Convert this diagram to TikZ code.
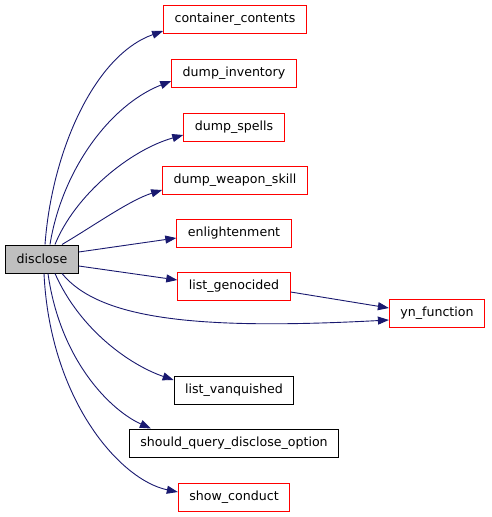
\documentclass[tikz,border=0pt]{standalone}
\usepackage{fontspec}
\setmainfont{DejaVu Sans}
\usepackage{xcolor}
\usetikzlibrary{arrows.meta,positioning,calc}
\definecolor{edge}{RGB}{25,25,112}
\definecolor{boxred}{RGB}{255,0,0}
\definecolor{focus}{RGB}{191,191,191}

\begin{document}
\begin{tikzpicture}[x=1pt,y=-1pt,
    fn/.style={draw=boxred,line width=1pt,font=\fontsize{12.6}{14}\selectfont,minimum height=28pt,inner xsep=11pt},
    fnblack/.style={fn,draw=black},
    call/.style={draw=edge,line width=0.9pt,-{Triangle[length=11pt,width=8pt]}}]
    \fill[white] (0,0) rectangle (491,517);
    \useasboundingbox (0,0) rectangle (491,517);

    % caller
    \node[fnblack,fill=focus] (disclose) at (42,259) {disclose};

    % callees
    \node[fn] (cont) at (235,19) {container\_contents};
    \node[fn] (inv) at (234,73) {dump\_inventory};
    \node[fn] (spells) at (234,127) {dump\_spells};
    \node[fn] (weapon) at (235,180) {dump\_weapon\_skill};
    \node[fn] (enl) at (234,233) {enlightenment};
    \node[fn] (geno) at (234,286) {list\_genocided};
    \node[fn] (yn) at (437,313) {yn\_function};
    \node[fnblack] (vanq) at (234,390) {list\_vanquished};
    \node[fnblack] (sqdo) at (234,443) {should\_query\_disclose\_option};
    \node[fn] (cond) at (234,497) {show\_conduct};

    % edges
    \draw[call] ($(disclose.north)+(3,0)$) .. controls (52,150) and (95,55) .. (cont.west |- 0,31);
    \draw[call] ($(disclose.north)+(8,0)$) .. controls (62,170) and (110,105) .. (inv.west |- 0,81);
    \draw[call] ($(disclose.north)+(13,0)$) .. controls (75,195) and (130,150) .. (spells.west |- 0,135);
    \draw[call] ($(disclose.north)+(20,0)$) .. controls (95,225) and (130,200) .. (weapon.west |- 0,190);
    \draw[call] ($(disclose.east)+(0,-7)$) -- (enl.west |- 0,238);
    \draw[call] ($(disclose.east)+(0,7)$) -- (geno.west |- 0,280);
    \draw[call] (geno.east |- 0,292) -- (yn.west |- 0,308);
    \draw[call] ($(disclose.south)+(20,0)$) .. controls (100,320) and (200,330) .. (yn.west |- 0,320);
    \draw[call] ($(disclose.south)+(13,0)$) .. controls (80,330) and (130,365) .. (vanq.west |- 0,380);
    \draw[call] ($(disclose.south)+(6,0)$) .. controls (60,360) and (110,410) .. ($(sqdo.north west)+(22,0)$);
    \draw[call] ($(disclose.south)+(2,0)$) .. controls (50,400) and (120,480) .. (cond.west |- 0,492);
\end{tikzpicture}
\end{document}
